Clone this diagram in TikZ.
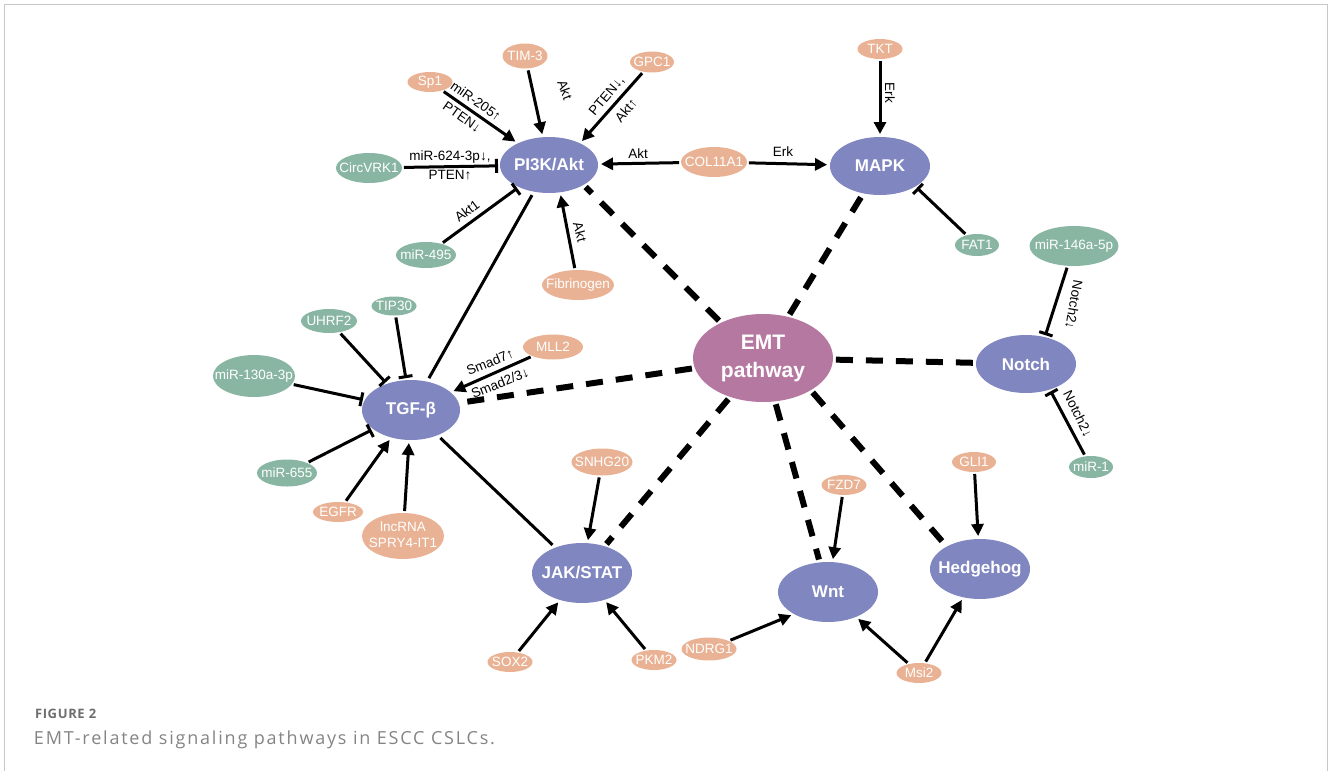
\documentclass[tikz,border=0pt]{standalone}
\usepackage{fontspec}
\setmainfont{Liberation Sans}
\newfontfamily\capfont[LetterSpace=10]{Open Sans}
\newfontfamily\figfont[LetterSpace=5]{Open Sans}
\usetikzlibrary{shapes.geometric,arrows.meta}
\definecolor{pw}{HTML}{8086C0}
\definecolor{emtc}{HTML}{B578A0}
\definecolor{org}{HTML}{EAB294}
\definecolor{grn}{HTML}{89B6A3}
\definecolor{capgray}{HTML}{6E6E6E}
\begin{document}
\begin{tikzpicture}[x=1pt,y=-1pt,
 every node/.style={inner sep=0pt,outer sep=0pt},
 big/.style={ellipse,fill=pw,text=white,font=\fontsize{17}{19}\selectfont\bfseries},
 sm/.style={ellipse,text=white,font=\fontsize{13.5}{16}\selectfont},
 on/.style={sm,fill=org},
 gn/.style={sm,fill=grn},
 lab/.style={font=\fontsize{13.5}{14}\selectfont,text=black},
 act/.style={line width=3pt,-{Triangle[length=12pt,width=12pt]},shorten <=2pt,shorten >=3pt},
 inh/.style={line width=3pt,-{Bar[width=14pt]},shorten <=2pt,shorten >=2pt},
 lnk/.style={line width=3pt,shorten <=4pt,shorten >=4pt},
 dsh/.style={line width=6pt,dash pattern=on 17pt off 13pt,shorten <=3pt,shorten >=3pt},
 sz/.style 2 args={minimum width=#1pt,minimum height=#2pt}
]
\useasboundingbox (0,0) rectangle (1328,771);
\draw[black!22,line width=1pt] (4,771) -- (4,4.5) -- (1327,4.5) -- (1327,771);

% pathway nodes
\node[big,sz={98}{56}] (pi3k) at (549,165) {\makebox[0pt]{PI3K/Akt}};
\node[big,sz={100}{58}] (mapk) at (880,166) {\makebox[0pt]{MAPK}};
\node[big,sz={100}{58}] (notch) at (1026,364) {\makebox[0pt]{Notch}};
\node[big,sz={98}{60}] (tgf) at (411,410) {\makebox[0pt]{TGF-β}};
\node[big,sz={100}{60}] (jak) at (582,573) {\makebox[0pt]{JAK/STAT}};
\node[big,sz={100}{60}] (wnt) at (828,592) {\makebox[0pt]{Wnt}};
\node[big,sz={100}{60}] (hh) at (980,569) {\makebox[0pt]{Hedgehog}};
\node[big,fill=emtc,sz={140}{88},font=\fontsize{21}{28}\selectfont\bfseries] (emt) at (763,358)
  {\makebox[0pt]{\begin{tabular}{@{}c@{}}EMT\\pathway\end{tabular}}};

% regulator nodes
\node[on,sz={45}{25}] (tim3) at (525,56) {\makebox[0pt]{TIM-3}};
\node[on,sz={44}{21}] (gpc1) at (652,62) {\makebox[0pt]{GPC1}};
\node[on,sz={45}{20}] (sp1) at (430,82) {\makebox[0pt]{Sp1}};
\node[gn,sz={66}{30}] (circ) at (369,168) {\makebox[0pt]{CircVRK1}};
\node[on,sz={66}{30}] (col) at (714,162) {\makebox[0pt]{COL11A1}};
\node[on,sz={45}{20}] (tkt) at (880,49) {\makebox[0pt]{TKT}};
\node[gn,sz={44}{22}] (fat1) at (977,245) {\makebox[0pt]{FAT1}};
\node[gn,sz={89}{40}] (m146) at (1074,246) {\makebox[0pt]{miR-146a-5p}};
\node[gn,sz={44}{22}] (mir1) at (1091,467) {\makebox[0pt]{miR-1}};
\node[on,sz={44}{20}] (gli1) at (974,462) {\makebox[0pt]{GLI1}};
\node[gn,sz={60}{26}] (m495) at (426,255) {\makebox[0pt]{miR-495}};
\node[on,sz={72}{30}] (fib) at (578,285) {\makebox[0pt]{Fibrinogen}};
\node[gn,sz={45}{19}] (tip30) at (394,306) {\makebox[0pt]{TIP30}};
\node[gn,sz={56}{24}] (uhrf2) at (329,321) {\makebox[0pt]{UHRF2}};
\node[gn,sz={82}{42}] (m130) at (254,376) {\makebox[0pt]{miR-130a-3p}};
\node[on,sz={60}{25}] (mll2) at (553,347) {\makebox[0pt]{MLL2}};
\node[gn,sz={60}{27}] (m655) at (287,473) {\makebox[0pt]{miR-655}};
\node[on,sz={50}{20}] (egfr) at (338,512) {\makebox[0pt]{EGFR}};
\node[on,sz={82}{46}] (lnc) at (403,536)
  {\makebox[0pt]{\begin{tabular}{@{}c@{}}lncRNA\\SPRY4-IT1\end{tabular}}};
\node[on,sz={61}{27}] (snhg) at (602,462) {\makebox[0pt]{SNHG20}};
\node[on,sz={45}{20}] (sox2) at (510,662) {\makebox[0pt]{SOX2}};
\node[on,sz={45}{20}] (pkm2) at (654,660) {\makebox[0pt]{PKM2}};
\node[on,sz={55}{23}] (ndrg) at (709,649) {\makebox[0pt]{NDRG1}};
\node[on,sz={45}{20}] (fzd7) at (844,485) {\makebox[0pt]{FZD7}};
\node[on,sz={45}{20}] (msi2) at (919,673) {\makebox[0pt]{Msi2}};

% dashed links to EMT
\draw[dsh] (emt.140) -- (pi3k.-30);
\draw[dsh] (emt) -- (mapk);
\draw[dsh] (emt) -- (notch);
\draw[dsh] (emt) -- (tgf);
\draw[dsh] (emt) -- (jak);
\draw[dsh] (emt) -- (wnt);
\draw[dsh] (emt.-34) -- (hh.146);

% plain links
\draw[lnk] (pi3k) -- (tgf);
\draw[lnk] (tgf) -- (jak);

% PI3K/Akt
\draw[act] (sp1) -- (pi3k);
\draw[act] (tim3) -- (pi3k);
\draw[act] (gpc1) -- (pi3k.35);
\draw[act] (fib) -- (pi3k.-68);
\draw[act] (col) -- (pi3k);
\draw[inh] (circ) -- (pi3k);
\draw[inh] (m495) -- (pi3k);
% MAPK
\draw[act] (col) -- (mapk);
\draw[act] (tkt) -- (mapk);
\draw[inh] (fat1) -- (mapk.-30);
% Notch
\draw[inh] (m146) -- (notch.55);
\draw[inh] (mir1) -- (notch.-47);
% TGF
\draw[inh] (uhrf2) -- (tgf);
\draw[inh] (tip30) -- (tgf);
\draw[inh] (m130) -- (tgf);
\draw[inh] (m655) -- (tgf);
\draw[act] (egfr) -- (tgf);
\draw[act] (lnc) -- (tgf);
\draw[act] (mll2) -- (tgf);
% JAK/STAT
\draw[act] (snhg) -- (jak);
\draw[act] (sox2) -- (jak);
\draw[act] (pkm2) -- (jak);
% Wnt, Hedgehog
\draw[act] (fzd7) -- (wnt);
\draw[act] (ndrg) -- (wnt.213);
\draw[act] (msi2) -- (wnt);
\draw[act] (msi2) -- (hh);
\draw[act] (gli1) -- (hh);

% edge labels
\node[lab,rotate=-35] (l1) at (476,101) {miR-205↑};
\node[lab,rotate=-35] (l2) at (462,117) {PTEN↓};
\node[lab,rotate=-70] (l3) at (565,90) {Akt};
\node[lab,rotate=50] (l4) at (607,96) {PTEN↓,};
\node[lab,rotate=50] (l5) at (626,110) {Akt↑};
\node[lab] (l6) at (450,157) {miR-624-3p↓,};
\node[lab] (l7) at (450,175) {PTEN↑};
\node[lab,rotate=37] (l8) at (467,211) {Akt1};
\node[lab,rotate=-75] (l9) at (580,232) {Akt};
\node[lab] (l10) at (638,154) {Akt};
\node[lab] (l11) at (783,152) {Erk};
\node[lab,rotate=-90] (l12) at (890,93) {Erk};
\node[lab,rotate=-100] (l13) at (1074,305) {Notch2↓};
\node[lab,rotate=-64] (l14) at (1078,414) {Notch2↓};
\node[lab,rotate=22] (l15) at (490,362) {Smad7↑};
\node[lab,rotate=22] (l16) at (500,383) {Smad2/3↓};

% caption
\node[anchor=base west,font=\figfont\bfseries\fontsize{13}{14}\selectfont,text=capgray] (fig) at (35,718) {FIGURE 2};
\node[anchor=base west,font=\capfont\fontsize{18}{20}\selectfont,text=capgray!85] (cap) at (34,744) {EMT-related signaling pathways in ESCC CSLCs.};
\end{tikzpicture}
\end{document}
